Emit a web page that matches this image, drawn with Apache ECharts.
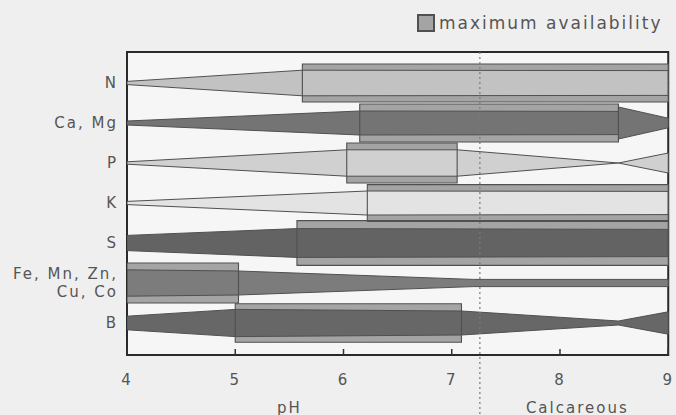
<!DOCTYPE html>
<html><head><meta charset="utf-8">
<script src="https://cdn.jsdelivr.net/npm/echarts@6/dist/echarts.min.js"></script>
<style>
html,body{margin:0;padding:0;background:#efefef;}
#c{width:676px;height:415px;}
#c svg text{letter-spacing:2px;}
</style></head><body><div id="c"></div>
<script>
// ---------- data ----------
const nutrients = ['N', 'Ca, Mg', 'P', 'K', 'S', 'Fe, Mn, Zn,\nCu, Co', 'B'];
const phTicks = [4, 5, 6, 7, 8, 9];
// band profiles: [pH, relative availability (half-width in row units)]
const bandN  = [[4, 0.04], [5.62, 0.32], [9, 0.31]];
const bandCa = [[4, 0.05], [6.15, 0.30], [8.54, 0.29], [8.54, 0.40], [9, 0.12]];
const bandP  = [[4, 0.03], [6.03, 0.33], [7.05, 0.33], [8.54, 0.0], [9, 0.25]];
const bandK  = [[4, 0.04], [6.22, 0.30], [9, 0.29]];
const bandS  = [[4, 0.19], [5.57, 0.36], [9, 0.34]];
const bandFe = [[4, 0.33], [5.03, 0.30], [7.2, 0.09], [9, 0.09]];
const bandB  = [[4, 0.17], [5.0, 0.34], [7.09, 0.30], [8.54, 0.05], [9, 0.28]];
// maximum availability ranges (pH)
const maxStart = [5.62, 6.15, 6.03, 6.22, 5.57, 4.0, 5.0];
const maxEnd   = [9.0, 8.54, 7.05, 9.0, 9.0, 5.03, 7.09];
const calcareousFrom = 7.26;
const notePh = [5.5, 8.16];
const noteText = ['pH', 'Calcareous'];

// ---------- styles ----------
const bands = [bandN, bandCa, bandP, bandK, bandS, bandFe, bandB];
const bandColors = ['#c2c2c2', '#747474', '#d0d0d0', '#e3e3e3', '#636363', '#7c7c7c', '#676767'];
const boxHalf = [0.475, 0.475, 0.5, 0.46, 0.56, 0.5, 0.48];
const boxFill = '#a4a4a4';
const edge = '#505050';
const font = 'DejaVu Sans';
const yMin = -0.775, yMax = 6.8;

const chart = echarts.init(document.getElementById('c'), null, {renderer: 'svg'});

function boxRender(mode) {
  return function (params, api) {
    const i = api.value(2);
    const h = boxHalf[i];
    const p0 = api.coord([api.value(0), i - h]);
    const p1 = api.coord([api.value(1), i + h]);
    const shape = {
      x: Math.min(p0[0], p1[0]), y: Math.min(p0[1], p1[1]),
      width: Math.abs(p1[0] - p0[0]), height: Math.abs(p1[1] - p0[1])
    };
    return {
      type: 'rect', shape: shape,
      style: mode === 'fill' ? {fill: boxFill, stroke: null} : {fill: null, stroke: edge, lineWidth: 1.1}
    };
  };
}

const option = {
  backgroundColor: '#efefef',
  animation: false,
  textStyle: {fontFamily: font},
  legend: {
    left: 417, top: 14, padding: 0,
    itemWidth: 16, itemHeight: 16,
    icon: 'rect',
    data: ['maximum availability'],
    textStyle: {fontSize: 17, color: '#555', fontFamily: font},
    selectedMode: false
  },
  grid: {
    left: 127, right: 6, top: 52, bottom: 60,
    show: true, backgroundColor: '#f6f6f6', borderColor: '#2a2a2a', borderWidth: 2
  },
  xAxis: [{
    type: 'value', min: 4, max: 9, interval: 1,
    axisLine: {show: true, lineStyle: {color: '#2a2a2a', width: 2}},
    axisTick: {show: false},
    splitLine: {show: false},
    axisLabel: {fontSize: 15, color: '#555', margin: 17, fontFamily: font}
  }, {
    type: 'value', min: 4, max: 9, position: 'bottom',
    axisLine: {show: false}, axisTick: {show: false}, splitLine: {show: false},
    axisLabel: {
      customValues: notePh, margin: 45, fontSize: 15, color: '#555', fontFamily: font,
      formatter: function (v) { return noteText[notePh.indexOf(v)]; }
    }
  }],
  yAxis: {
    type: 'value', inverse: true, min: yMin, max: yMax,
    axisLine: {show: false}, axisTick: {show: false}, splitLine: {show: false},
    axisLabel: {
      customValues: nutrients.map(function (_, i) { return i; }),
      formatter: function (v) { return nutrients[Math.round(v)]; },
      fontSize: 15, color: '#555', margin: 9, lineHeight: 18, align: 'right', fontFamily: font
    }
  },
  series: [{
    name: 'maximum availability',
    type: 'custom',
    clip: true,
    itemStyle: {color: boxFill, borderColor: edge, borderWidth: 1},
    encode: {x: [0, 1], y: 2},
    data: nutrients.map(function (_, i) { return [maxStart[i], maxEnd[i], i]; }),
    renderItem: boxRender('fill'),
    z: 1
  }, {
    name: 'availability',
    type: 'custom',
    clip: true,
    encode: {x: 0, y: 1},
    data: nutrients.map(function (_, i) { return [4, i]; }),
    renderItem: function (params, api) {
      const i = params.dataIndex;
      const prof = bands[i];
      const top = prof.map(function (p) { return api.coord([p[0], i - p[1]]); });
      const bot = prof.slice().reverse().map(function (p) { return api.coord([p[0], i + p[1]]); });
      return {
        type: 'polygon',
        shape: {points: top.concat(bot)},
        style: {fill: bandColors[i], stroke: edge, lineWidth: 1}
      };
    },
    z: 2
  }, {
    name: 'box outline',
    type: 'custom',
    clip: true,
    encode: {x: [0, 1], y: 2},
    data: nutrients.map(function (_, i) { return [maxStart[i], maxEnd[i], i]; }),
    renderItem: boxRender('stroke'),
    z: 3
  }, {
    name: 'ticks',
    type: 'custom',
    clip: true,
    encode: {x: 0, y: 1},
    data: phTicks.map(function (t) { return [t, yMax]; }),
    renderItem: function (params, api) {
      const p = api.coord([api.value(0), api.value(1)]);
      return {
        type: 'line',
        shape: {x1: p[0], y1: p[1], x2: p[0], y2: p[1] - 6},
        style: {stroke: '#333', lineWidth: 1.5}
      };
    },
    z: 5
  }, {
    name: 'calcareous',
    type: 'custom',
    clip: false,
    encode: {x: 0, y: 1},
    data: [[calcareousFrom, yMin]],
    renderItem: function (params, api) {
      const p = api.coord([api.value(0), api.value(1)]);
      return {
        type: 'line',
        shape: {x1: p[0], y1: p[1], x2: p[0], y2: api.getHeight()},
        style: {stroke: '#7a7a7a', lineWidth: 1.2, lineDash: [2, 3]}
      };
    },
    z: 4
  }]
};
chart.setOption(option);
</script></body></html>
